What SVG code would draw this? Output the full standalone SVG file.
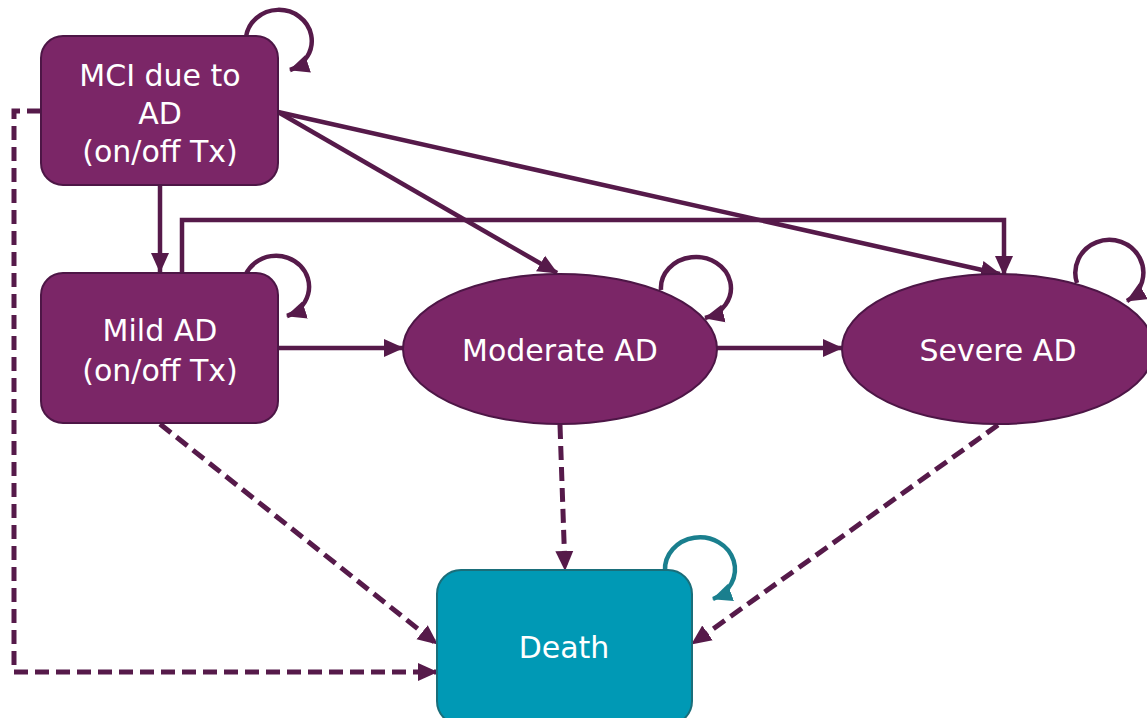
<svg xmlns="http://www.w3.org/2000/svg" width="1147" height="718" viewBox="0 0 1147 718">
<defs>
<marker id="ah" markerUnits="userSpaceOnUse" markerWidth="20" markerHeight="20" viewBox="0 0 20 20" refX="19" refY="10" orient="auto">
<path d="M0,1 L20,10 L0,19 Z" fill="#561A4A"/>
</marker>
<marker id="aht" markerUnits="userSpaceOnUse" markerWidth="20" markerHeight="20" viewBox="0 0 20 20" refX="19" refY="10" orient="auto">
<path d="M0,1 L20,10 L0,19 Z" fill="#1A7F8E"/>
</marker>
<style>
.n{fill:#7B2667;stroke:#4D1646;stroke-width:2}
.d{fill:#0099B5;stroke:#1A6E7A;stroke-width:2}
.t{fill:#fff;font-family:"DejaVu Sans",sans-serif;font-size:30px;text-anchor:middle}
.c{fill:none;stroke:#561A4A;stroke-width:4.5;marker-end:url(#ah)}
.ds{fill:none;stroke:#561A4A;stroke-width:5;stroke-dasharray:14,7;marker-end:url(#ah)}
.lt{fill:none;stroke:#1A7F8E;stroke-width:4.5;marker-end:url(#aht)}
</style>
</defs>
<rect width="1147" height="718" fill="#fff"/>
<g id="connectors">
<path class="c" d="M160,185 L160,272"/>
<path class="c" d="M182,273 L182,220 L1004,220 L1004,275"/>
<path class="c" d="M278,112 L557,273"/>
<path class="c" d="M278,112 L1000,274"/>
<path class="c" d="M278,348 L403,348"/>
<path class="c" d="M717,348 L842,348"/>
<path class="c" d="M246,37 A33,31 0 1 1 290,70"/>
<path class="c" d="M246,274 A33,31 0 1 1 287,316"/>
<path class="c" d="M661,290 A35,31 0 1 1 705,318"/>
<path class="c" d="M1077,283 A34,33 0 1 1 1127,301"/>
<path class="lt" d="M665,571 A35,32 0 1 1 713,599"/>
<path class="ds" d="M41,111 L14,111 L14,672 L437,672"/>
<path class="ds" d="M160,424 L437,644"/>
<path class="ds" d="M560,425 L565,570"/>
<path class="ds" d="M998,425 L692,644"/>
</g>
<g id="mci">
<rect class="n" x="41" y="36" width="237" height="149" rx="22"/>
<text class="t" x="160" y="86">MCI due to</text>
<text class="t" x="160" y="124">AD</text>
<text class="t" x="160" y="162">(on/off Tx)</text>
</g>
<g id="mild">
<rect class="n" x="41" y="273" width="237" height="150" rx="22"/>
<text class="t" x="160" y="341">Mild AD</text>
<text class="t" x="160" y="381">(on/off Tx)</text>
</g>
<g id="moderate">
<ellipse class="n" cx="560" cy="349" rx="157" ry="75"/>
<text class="t" x="560" y="361">Moderate  AD</text>
</g>
<g id="severe">
<ellipse class="n" cx="998" cy="349" rx="156" ry="75"/>
<text class="t" x="998" y="361">Severe  AD</text>
</g>
<g id="death">
<rect class="d" x="437" y="570" width="255" height="155" rx="24"/>
<text class="t" x="564" y="658">Death</text>
</g>
</svg>
